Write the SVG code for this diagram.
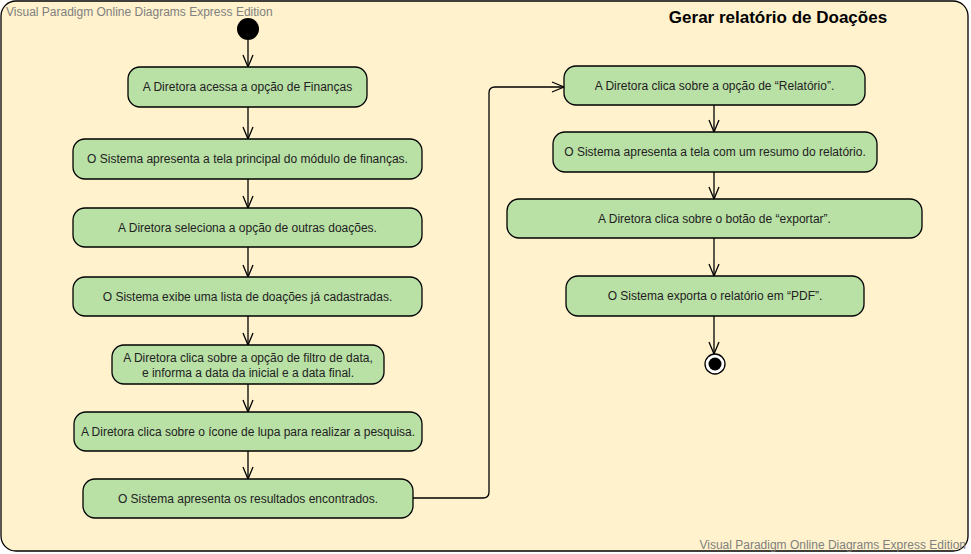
<svg xmlns="http://www.w3.org/2000/svg" width="971" height="554" viewBox="0 0 971 554">
<defs>
<style>
.node rect{fill:#b9e0a5;stroke:#000;stroke-width:1.3}
.node text{font-family:"Liberation Sans",Arial,sans-serif;font-size:12px;fill:#222;text-anchor:middle}
.edge{fill:none;stroke:#000;stroke-width:1.3}
.wm{font-family:"Liberation Sans",Arial,sans-serif;font-size:12px;fill:#808080}
</style>
<marker id="arr" viewBox="0 0 14 12" refX="13" refY="6" markerWidth="14" markerHeight="12" markerUnits="userSpaceOnUse" orient="auto">
<path d="M1,1 L13,6 L1,11" fill="none" stroke="#000" stroke-width="1.3"/>
</marker>
</defs>
<rect x="1" y="1" width="967" height="550" rx="15" fill="#fff2cc" stroke="#000" stroke-width="1.3"/>
<text class="wm" x="6" y="16">Visual Paradigm Online Diagrams Express Edition</text>
<text class="wm" x="966" y="549" text-anchor="end">Visual Paradigm Online Diagrams Express Edition</text>
<text x="778" y="23" text-anchor="middle" font-family="'Liberation Sans',Arial,sans-serif" font-size="17" font-weight="bold" fill="#000">Gerar relatório de Doações</text>

<g id="edges">
<path class="edge" d="M248,40 V67" marker-end="url(#arr)"/>
<path class="edge" d="M248,107 V139" marker-end="url(#arr)"/>
<path class="edge" d="M248,179 V208" marker-end="url(#arr)"/>
<path class="edge" d="M248,247 V277" marker-end="url(#arr)"/>
<path class="edge" d="M248,316 V345" marker-end="url(#arr)"/>
<path class="edge" d="M248,384 V412" marker-end="url(#arr)"/>
<path class="edge" d="M248,451 V479" marker-end="url(#arr)"/>
<path class="edge" d="M413,498 H483 Q489,498 489,492 V93 Q489,87 495,87 H564" marker-end="url(#arr)"/>
<path class="edge" d="M714,105 V132" marker-end="url(#arr)"/>
<path class="edge" d="M714,172 V199" marker-end="url(#arr)"/>
<path class="edge" d="M714,238 V276" marker-end="url(#arr)"/>
<path class="edge" d="M714,316 V354" marker-end="url(#arr)"/>
</g>

<g id="start"><circle cx="248" cy="29" r="11" fill="#000"/></g>
<g id="end"><circle cx="715" cy="364" r="10" fill="#fff" stroke="#000" stroke-width="1.3"/><circle cx="715" cy="364" r="6.5" fill="#000"/></g>

<g id="n1" class="node"><rect x="128" y="67" width="239" height="40" rx="12"/><text x="247.5" y="91">A Diretora acessa a opção de Finanças</text></g>
<g id="n2" class="node"><rect x="73" y="139" width="349" height="40" rx="12"/><text x="247.5" y="163">O Sistema apresenta a tela principal do módulo de finanças.</text></g>
<g id="n3" class="node"><rect x="73" y="208" width="349" height="39" rx="12"/><text x="247.5" y="232">A Diretora seleciona a opção de outras doações.</text></g>
<g id="n4" class="node"><rect x="73" y="277" width="349" height="39" rx="12"/><text x="247.5" y="301">O Sistema exibe uma lista de doações já cadastradas.</text></g>
<g id="n5" class="node"><rect x="112" y="345" width="272" height="39" rx="12"/><text x="248" y="362">A Diretora clica sobre a opção de filtro de data,</text><text x="248" y="377">e informa a data da inicial e a data final.</text></g>
<g id="n6" class="node"><rect x="74" y="412" width="348" height="39" rx="12"/><text x="248" y="436">A Diretora clica sobre o ícone de lupa para realizar a pesquisa.</text></g>
<g id="n7" class="node"><rect x="83" y="479" width="330" height="39" rx="12"/><text x="248" y="503">O Sistema apresenta os resultados encontrados.</text></g>
<g id="n8" class="node"><rect x="564" y="66" width="301" height="39" rx="12"/><text x="714.5" y="90">A Diretora clica sobre a opção de “Relatório”.</text></g>
<g id="n9" class="node"><rect x="553" y="132" width="324" height="40" rx="12"/><text x="715" y="156">O Sistema apresenta a tela com um resumo do relatório.</text></g>
<g id="n10" class="node"><rect x="507" y="199" width="415" height="39" rx="12"/><text x="714.5" y="223">A Diretora clica sobre o botão de “exportar”.</text></g>
<g id="n11" class="node"><rect x="566" y="276" width="298" height="40" rx="12"/><text x="715" y="300">O Sistema exporta o relatório em “PDF”.</text></g>
</svg>
